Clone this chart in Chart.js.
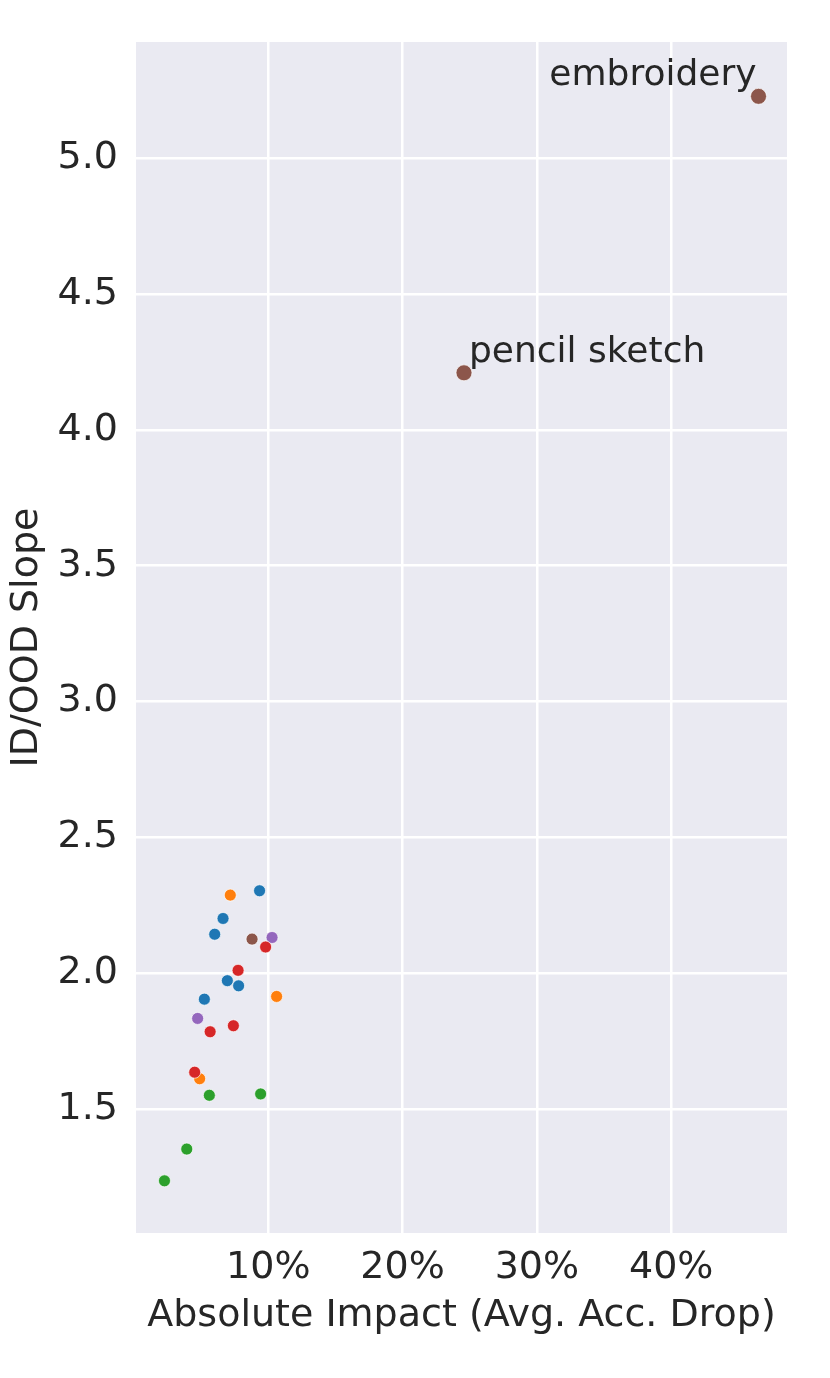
<!DOCTYPE html>
<html>
<head>
<meta charset="utf-8">
<script src="https://cdn.jsdelivr.net/npm/chart.js@4.4.0/dist/chart.umd.min.js"></script>
<style>
html,body{margin:0;padding:0;background:#fff;}
#wrap{width:830px;height:1378px;}
</style>
</head>
<body>
<div id="wrap"><canvas id="c" width="830" height="1378"></canvas></div>
<script>
// ---- data (x = absolute impact in %, y = ID/OOD slope) ----
const blueX   = [9.35, 6.63, 6.01, 6.95, 7.79, 5.24];
const blueY   = [2.303, 2.201, 2.143, 1.972, 1.953, 1.904];
const orangeX = [7.17, 10.62, 4.89];
const orangeY = [2.287, 1.914, 1.611];
const greenX  = [5.61, 9.43, 3.93, 2.27];
const greenY  = [1.550, 1.555, 1.352, 1.235];
const redX    = [9.80, 7.75, 7.40, 5.67, 4.52];
const redY    = [2.096, 2.010, 1.806, 1.784, 1.635];
const purpleX = [10.28, 4.74];
const purpleY = [2.131, 1.833];
const brownX  = [8.79, 24.57, 46.5];
const brownY  = [2.125, 4.210, 5.228];
const brownLabels = ['', 'pencil sketch', 'embroidery'];
const xTickValues = [10, 20, 30, 40];
const yTickValues = [1.5, 2.0, 2.5, 3.0, 3.5, 4.0, 4.5, 5.0];

const FONT = '"DejaVu Sans", sans-serif';
const TXT = '#262626';

function pts(xs, ys){ return xs.map((x,i)=>({x:x, y:ys[i]})); }
function ds(label, xs, ys, color, order, radii){
  return {
    label: label, data: pts(xs, ys), backgroundColor: color,
    borderColor: 'rgba(255,255,255,0.85)', borderWidth: 0.8,
    pointRadius: radii || 6, pointHoverRadius: radii || 6, order: order
  };
}

const bgPlugin = {
  id: 'bg',
  beforeDraw(chart){
    const {ctx, chartArea:a} = chart;
    ctx.save(); ctx.fillStyle = '#eaeaf2';
    ctx.fillRect(a.left, a.top, a.right - a.left, a.bottom - a.top);
    ctx.restore();
  }
};

const labelPlugin = {
  id: 'labels',
  afterDatasetsDraw(chart){
    const ctx = chart.ctx;
    const xs = chart.scales.x, ys = chart.scales.y;
    ctx.save();
    ctx.fillStyle = TXT;
    ctx.font = '36px ' + FONT;
    ctx.textBaseline = 'alphabetic';
    brownLabels.forEach((t, i) => {
      if (!t) return;
      const px = xs.getPixelForValue(brownX[i]);
      const py = ys.getPixelForValue(brownY[i]);
      if (t === 'embroidery') { ctx.textAlign = 'right'; ctx.fillText(t, px - 2, py - 11); }
      else { ctx.textAlign = 'left'; ctx.fillText(t, px + 5, py - 11); }
    });
    ctx.restore();
  }
};

new Chart(document.getElementById('c'), {
  type: 'scatter',
  data: {
    datasets: [
      ds('blue', blueX, blueY, '#1f77b4', 5),
      ds('orange', orangeX, orangeY, '#ff7f0e', 4),
      ds('green', greenX, greenY, '#2ca02c', 3),
      ds('red', redX, redY, '#d62728', 1),
      ds('purple', purpleX, purpleY, '#9467bd', 2),
      ds('brown', brownX, brownY, '#8c564b', 0, [6, 8, 8])
    ]
  },
  options: {
    responsive: false,
    animation: false,
    devicePixelRatio: 1,
    layout: { padding: { left: 0, right: 43, top: 42, bottom: 0 } },
    plugins: { legend: { display: false }, tooltip: { enabled: false } },
    scales: {
      x: {
        type: 'linear', min: 0.15, max: 48.62,
        afterBuildTicks(s){ s.ticks = xTickValues.map(v => ({value: v})); },
        afterFit(s){ s.height = 145; },
        border: { display: false },
        grid: { color: '#ffffff', lineWidth: 2.5, drawTicks: false },
        ticks: { color: TXT, font: { family: FONT, size: 38 }, padding: 12,
                 maxRotation: 0, callback: v => v + '%' },
        title: { display: true, text: 'Absolute Impact (Avg. Acc. Drop)', color: TXT,
                 font: { family: FONT, size: 38 }, padding: { top: 0, bottom: 39 } }
      },
      y: {
        type: 'linear', min: 1.043, max: 5.428,
        afterBuildTicks(s){ s.ticks = yTickValues.map(v => ({value: v})); },
        afterFit(s){ s.width = 136; },
        border: { display: false },
        grid: { color: '#ffffff', lineWidth: 2.5, drawTicks: false },
        ticks: { color: TXT, font: { family: FONT, size: 38 }, padding: 18,
                 callback: v => Number(v).toFixed(1) },
        title: { display: true, text: 'ID/OOD Slope', color: TXT,
                 font: { family: FONT, size: 38 }, padding: { top: 4, bottom: 0 } }
      }
    }
  },
  plugins: [bgPlugin, labelPlugin]
});
</script>
</body>
</html>
